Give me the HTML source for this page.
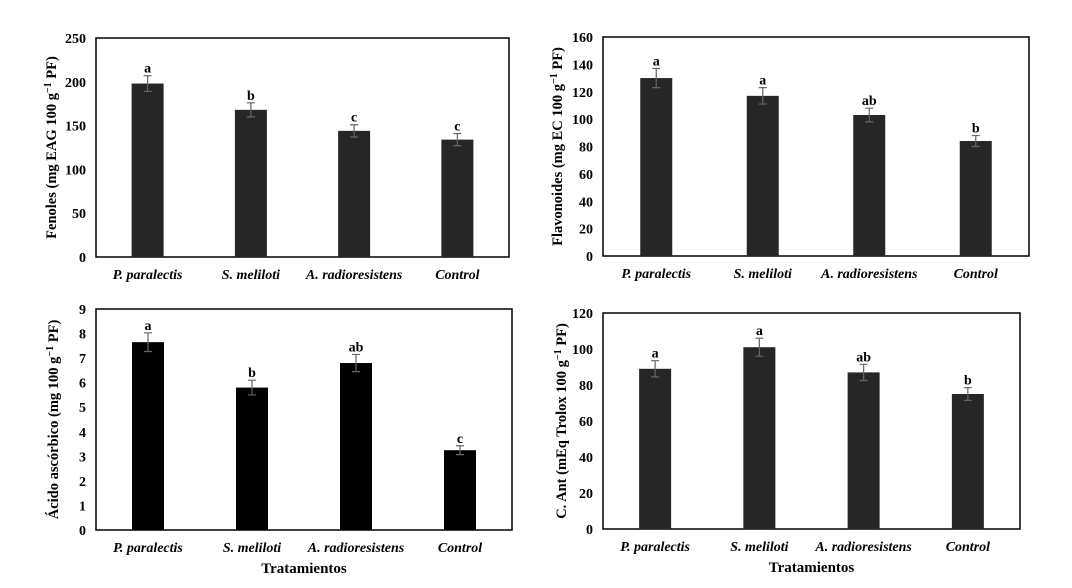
<!DOCTYPE html>
<html><head><meta charset="utf-8"><style>
html,body{margin:0;padding:0;background:#fff;}
svg{display:block;font-family:"Liberation Serif",serif;font-weight:bold;}
</style></head><body>
<svg id="fig" width="1072" height="588" viewBox="0 0 1072 588" xmlns="http://www.w3.org/2000/svg"></svg>
<script>
const categories = ["P. paralectis","S. meliloti","A. radioresistens","Control"];
const fenolesValues = [198,168,144,134];
const fenolesErrors = [9,8,7,7];
const fenolesLetters = ["a","b","c","c"];
const fenolesTicks = [0,50,100,150,200,250];
const flavValues = [130,117,103,84];
const flavErrors = [7,6,5,4];
const flavLetters = ["a","a","ab","b"];
const flavTicks = [0,20,40,60,80,100,120,140,160];
const ascValues = [7.65,5.8,6.8,3.25];
const ascErrors = [0.38,0.3,0.35,0.18];
const ascLetters = ["a","b","ab","c"];
const ascTicks = [0,1,2,3,4,5,6,7,8,9];
const antValues = [89,101,87,75];
const antErrors = [4.5,5,4.5,3.5];
const antLetters = ["a","a","ab","b"];
const antTicks = [0,20,40,60,80,100,120];

const NS="http://www.w3.org/2000/svg";
const svg=document.getElementById('fig');
function mk(tag,attrs,parent){const e=document.createElementNS(NS,tag);for(const k in attrs)e.setAttribute(k,attrs[k]);(parent||svg).appendChild(e);return e;}

function panel(id,box,vals,errs,letters,ticks,title,titleX,barColor,showX){
  const g=mk('g',{});
  
  
  const max=ticks[ticks.length-1];
  const y=v=>box.b-(v/max)*(box.b-box.t);
  const step=(box.r-box.l)/categories.length;
  const x=i=>box.l+step*(i+0.5);
  const frame=mk('rect',{x:box.l,y:box.t,width:box.r-box.l,height:box.b-box.t,fill:'none',stroke:'#000','stroke-width':1.5},g);
  
  
  ticks.forEach(t=>{
    const tx=mk('text',{x:box.l-10,y:y(t)+5,'text-anchor':'end','font-size':14},g);
    
    
    tx.textContent=t;
  });
  vals.forEach((v,i)=>{
    const bw=32;
    const r=mk('rect',{x:x(i)-bw/2,y:y(v),width:bw,height:box.b-y(v),fill:barColor},g);
    
    
    const e=errs[i];
    const eg=mk('path',{d:`M${x(i)},${y(v+e)}V${y(v-e)}M${x(i)-4},${y(v+e)}H${x(i)+4}M${x(i)-4},${y(v-e)}H${x(i)+4}`,stroke:'#666','stroke-width':1.2,fill:'none'},g);
    
    
    const lt=mk('text',{x:x(i),y:y(v+e)-3,'text-anchor':'middle','font-size':14},g);
    
    
    lt.textContent=letters[i];
    const cl=mk('text',{x:x(i),y:box.b+22,'text-anchor':'middle','font-size':14,'font-style':'italic'},g);
    
    
    cl.textContent=categories[i];
  });
  const cy=(box.t+box.b)/2;
  const yt=mk('text',{x:titleX,y:cy,'text-anchor':'middle','font-size':14.5,transform:`rotate(-90 ${titleX} ${cy})`},g);
  
  
  yt.innerHTML=title;
  if(showX){
    const xt=mk('text',{x:(box.l+box.r)/2,y:box.b+43,'text-anchor':'middle','font-size':15},g);
    
    
    xt.textContent='Tratamientos';
  }
}
panel('fenoles',{l:96,r:509,t:38,b:257},fenolesValues,fenolesErrors,fenolesLetters,fenolesTicks,
 'Fenoles (mg EAG 100 g<tspan dy="-5" font-size="10">−1</tspan><tspan dy="5"> PF)</tspan>',56,'#262626',false);
panel('flavonoides',{l:603,r:1029,t:37,b:256},flavValues,flavErrors,flavLetters,flavTicks,
 'Flavonoides  (mg EC 100 g<tspan dy="-5" font-size="10">−1</tspan><tspan dy="5"> PF)</tspan>',562,'#262626',false);
panel('acido-ascorbico',{l:96,r:512,t:309,b:530},ascValues,ascErrors,ascLetters,ascTicks,
 'Ácido ascórbico  (mg 100 g<tspan dy="-5" font-size="10">−1</tspan><tspan dy="5"> PF)</tspan>',58,'#000',true);
panel('capacidad-antioxidante',{l:603,r:1020,t:313,b:529},antValues,antErrors,antLetters,antTicks,
 'C. Ant (mEq Trolox 100 g<tspan dy="-5" font-size="10">−1</tspan><tspan dy="5"> PF)</tspan>',566,'#262626',true);
</script>
</body></html>
